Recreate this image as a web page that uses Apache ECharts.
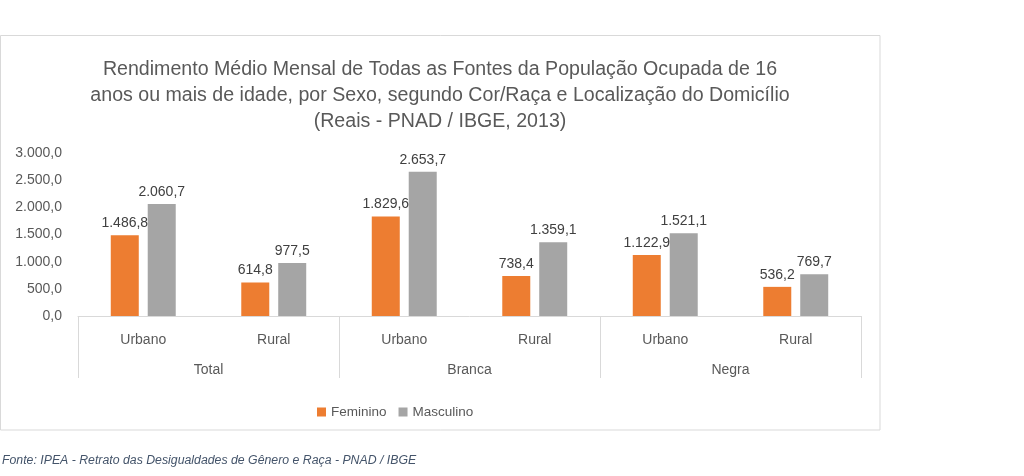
<!DOCTYPE html>
<html><head><meta charset="utf-8">
<script src="https://cdn.jsdelivr.net/npm/echarts@6/dist/echarts.min.js"></script>
<style>html,body{margin:0;padding:0;background:#fff}#c{width:1024px;height:476px}</style>
</head><body><div id="c"></div>
<script>
var localizacao = ['Urbano','Rural','Urbano','Rural','Urbano','Rural'];
var grupos = ['Total','Branca','Negra'];
var feminino = [1486.8, 614.8, 1829.6, 738.4, 1122.9, 536.2];
var masculino = [2060.7, 977.5, 2653.7, 1359.1, 1521.1, 769.7];
var titleLines = [
  'Rendimento Médio Mensal de Todas as Fontes da População Ocupada de 16',
  'anos ou mais de idade, por Sexo, segundo Cor/Raça e Localização do Domicílio',
  '(Reais - PNAD / IBGE, 2013)'
];
var fonte = 'Fonte: IPEA - Retrato das Desigualdades de Gênero e Raça - PNAD / IBGE';

function fmt(v){
  var s = v.toFixed(1).split('.');
  var i = s[0].replace(/\B(?=(\d{3})+(?!\d))/g, '.');
  return i + ',' + s[1];
}
var FF = 'Liberation Sans';
var chart = echarts.init(document.getElementById('c'));
var graphics = [
  {type:'rect', shape:{x:0.5,y:35.5,width:879.5,height:394.5}, style:{fill:'none',stroke:'#d9d9d9',lineWidth:1}, silent:true}
];
titleLines.forEach(function(t,i){
  graphics.push({type:'text', x:440, y:70+i*26, style:{text:t, textAlign:'center', textVerticalAlign:'middle', font:'19.6px "'+FF+'"', fill:'#595959'}});
});
graphics.push({type:'text', x:2, y:461, style:{text:fonte, textAlign:'left', textVerticalAlign:'middle', font:'italic 12.3px "'+FF+'"', fill:'#44546a'}});

chart.setOption({
  animation:false,
  textStyle:{fontFamily:FF},
  graphic:graphics,
  grid:{left:78, right:163, top:153, bottom:160},
  legend:{
    left:312, top:400, itemWidth:9, itemHeight:9, itemGap:12, icon:'rect',
    textStyle:{fontSize:13.5, color:'#595959', fontFamily:FF},
    data:['Feminino','Masculino']
  },
  xAxis:[
    {type:'category', data:localizacao, position:'bottom',
     axisLine:{show:true, lineStyle:{color:'#d9d9d9'}}, axisTick:{show:false},
     axisLabel:{interval:0, margin:17, fontSize:14, color:'#595959'}},
    {type:'category', data:grupos, position:'bottom',
     axisLine:{show:false},
     axisTick:{show:true, length:62, lineStyle:{color:'#d9d9d9'}, interval:0},
     axisLabel:{interval:0, margin:47, fontSize:14, color:'#595959'}}
  ],
  yAxis:{type:'value', min:0, max:3000, interval:500,
    axisLine:{show:false}, axisTick:{show:false}, splitLine:{show:false},
    axisLabel:{margin:16, fontSize:14, color:'#595959', padding:[6,0,0,0], formatter:function(v){return fmt(v);}}},
  series:[
    {name:'Feminino', type:'bar', data:feminino, barWidth:28, barGap:'32%', xAxisIndex:0,
     itemStyle:{color:'#ed7d31'},
     label:{show:true, position:'top', distance:5, fontSize:14, color:'#404040', formatter:function(p){return fmt(p.value);}}},
    {name:'Masculino', type:'bar', data:masculino, barWidth:28, xAxisIndex:0,
     itemStyle:{color:'#a5a5a5'},
     label:{show:true, position:'top', distance:5, fontSize:14, color:'#404040', formatter:function(p){return fmt(p.value);}}}
  ]
});
</script></body></html>
